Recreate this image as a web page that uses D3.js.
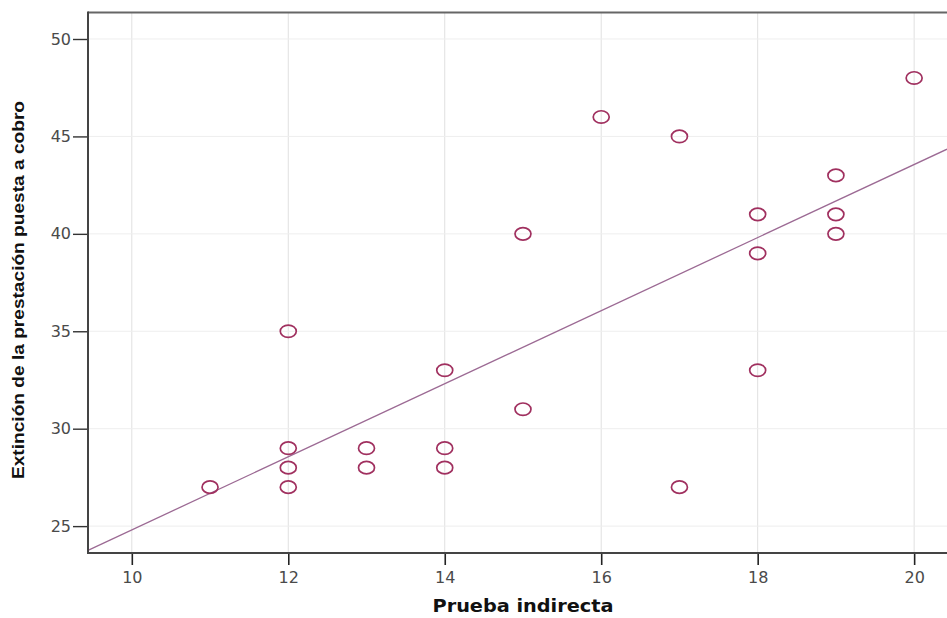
<!DOCTYPE html>
<html><head><meta charset="utf-8">
<script src="https://cdn.jsdelivr.net/npm/d3@7"></script>
<style>body{margin:0;background:#fff}svg{display:block}</style>
</head><body>
<script>
const xValues = [11,12,12,12,12,13,13,14,14,14,15,15,16,17,17,18,18,18,19,19,19,20];
const yValues = [27,35,29,28,27,29,28,33,29,28,40,31,46,45,27,41,39,33,43,41,40,48];
const xTicks = [10,12,14,16,18,20];
const yTicks = [25,30,35,40,45,50];
const xTitle = "Prueba indirecta";
const yTitle = "Extinción de la prestación puesta a cobro";

const W = 947, H = 618;
const svg = d3.select("body").append("svg").attr("width", W).attr("height", H);
const pLeft = 88, pRight = 947, pTop = 12.5, pBottom = 553;
const x = d3.scaleLinear().domain([9.44, 20.42]).range([pLeft, pRight]);
const y = d3.scaleLinear().domain([23.62, 51.36]).range([pBottom, pTop]);

// grid
const g = svg.append("g");
g.selectAll(".vg").data(xTicks).join("line")
  .attr("x1", d => x(d)).attr("x2", d => x(d)).attr("y1", pTop).attr("y2", pBottom)
  .attr("stroke", "#e0e0e0").attr("stroke-width", 1);
g.selectAll(".hg").data(yTicks).join("line")
  .attr("x1", pLeft).attr("x2", pRight).attr("y1", d => y(d)).attr("y2", d => y(d))
  .attr("stroke", "#eeeeee").attr("stroke-width", 1);

// fit line (least squares from data)
const n = xValues.length;
const mx = d3.mean(xValues), my = d3.mean(yValues);
let sxy = 0, sxx = 0;
for (let i = 0; i < n; i++) { sxy += (xValues[i]-mx)*(yValues[i]-my); sxx += (xValues[i]-mx)**2; }
const b = sxy/sxx, a = my - b*mx;
const xd = x.domain();
svg.append("line")
  .attr("x1", x(xd[0])).attr("y1", y(a + b*xd[0]))
  .attr("x2", x(xd[1])).attr("y2", y(a + b*xd[1]))
  .attr("stroke", "#9c6a94").attr("stroke-width", 1.3);

// points
svg.selectAll(".pt").data(xValues.map((v,i)=>[v,yValues[i]])).join("ellipse")
  .attr("cx", d => x(d[0])).attr("cy", d => y(d[1]))
  .attr("rx", 8).attr("ry", 6.2)
  .attr("fill", "none").attr("stroke", "#a0305f").attr("stroke-width", 1.7);

// axes
const xAxis = d3.axisBottom(x).tickValues(xTicks).tickSize(12).tickSizeOuter(0).tickFormat(d3.format("d"));
const yAxis = d3.axisLeft(y).tickValues(yTicks).tickSize(15).tickSizeOuter(0).tickFormat(d3.format("d"));
const gx = svg.append("g").attr("transform", `translate(0,${pBottom})`).call(xAxis);
gx.select(".domain").remove();
gx.selectAll(".tick line").attr("stroke", "#222").attr("stroke-width", 1.6);
gx.selectAll(".tick text").attr("dy", 0).attr("y", 30).attr("font-family", "DejaVu Sans, Verdana, sans-serif").attr("font-size", 16).attr("fill", "#4a4a4a");
const gy = svg.append("g").attr("transform", `translate(${pLeft},0)`).call(yAxis);
gy.select(".domain").remove();
gy.selectAll(".tick line").attr("stroke", "#333").attr("stroke-width", 1.4);
gy.selectAll(".tick text").attr("x", -17).attr("font-family", "DejaVu Sans, Verdana, sans-serif").attr("font-size", 16).attr("fill", "#4a4a4a");

// frame
svg.append("line").attr("x1", pLeft).attr("x2", pRight).attr("y1", pTop).attr("y2", pTop).attr("stroke", "#666").attr("stroke-width", 2);
svg.append("line").attr("x1", pLeft).attr("x2", pLeft).attr("y1", pTop-1).attr("y2", pBottom+1).attr("stroke", "#444").attr("stroke-width", 2);
svg.append("line").attr("x1", pLeft-1).attr("x2", pRight).attr("y1", pBottom).attr("y2", pBottom).attr("stroke", "#444").attr("stroke-width", 2);

// titles
svg.append("text").attr("x", 523).attr("y", 612).attr("text-anchor", "middle")
  .attr("font-family", "DejaVu Sans, Verdana, sans-serif").attr("font-weight", "bold").attr("font-size", 17)
  .attr("fill", "#111").attr("textLength", 181).attr("lengthAdjust", "spacingAndGlyphs").text(xTitle);
svg.append("text").attr("transform", "translate(24,290) rotate(-90)").attr("text-anchor", "middle")
  .attr("font-family", "Liberation Sans Narrow, Liberation Sans, Arial, sans-serif").attr("font-weight", "bold").attr("font-size", 16)
  .attr("fill", "#111").attr("textLength", 378).attr("lengthAdjust", "spacingAndGlyphs").text(yTitle);
</script>
</body></html>
